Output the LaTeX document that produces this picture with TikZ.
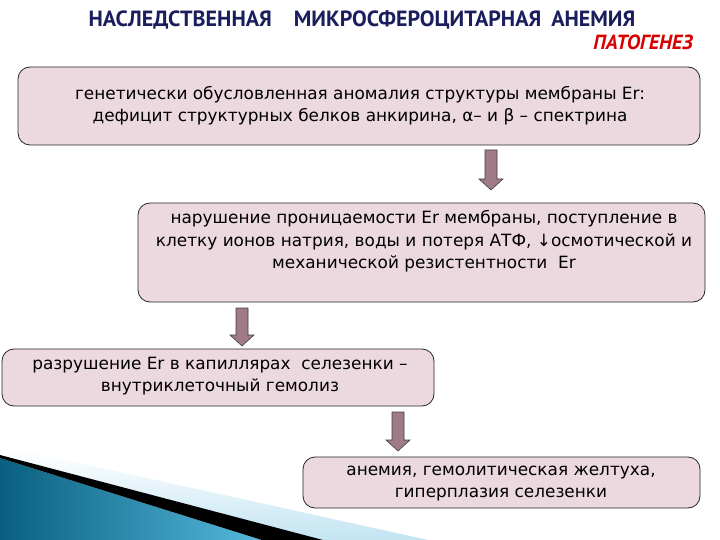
\documentclass[tikz,border=0pt]{standalone}
\usepackage{fontspec}
\setmainfont{DejaVu Sans}
\newfontfamily\titlefont{PT Sans}
\newfontfamily\boxfont{DejaVu Sans}
\definecolor{boxpink}{RGB}{236,217,223}
\definecolor{arrowmauve}{RGB}{160,122,135}
\definecolor{titlenavy}{RGB}{27,30,92}
\definecolor{tealdark}{RGB}{10,95,128}
\definecolor{teallight}{RGB}{85,185,220}
\definecolor{paleblue}{RGB}{195,228,242}
\tikzset{
  box/.style={draw=black!85, line width=0.8pt, fill=boxpink, rounded corners=12pt, inner sep=0pt},
  boxtext/.style={align=center, inner sep=0pt, font=\boxfont\fontsize{16.9}{22.5}\selectfont},
  arrowline/.style={draw=black!75, line width=0.6pt, fill=arrowmauve},
  pics/blockarrow/.style={code={
    \draw[arrowline] (-6,0) -- (6,0) -- (6,#1-11) -- (12,#1-11) -- (0,#1) -- (-12,#1-11) -- (-6,#1-11) -- cycle;}}
}
\begin{document}
\begin{tikzpicture}[x=1pt,y=-1pt]
\path[use as bounding box, fill=white] (0,0) rectangle (720,540);
% decoration bottom-left
\shade[top color=white, bottom color=paleblue] (20,450) -- (428,540) -- (320,540) -- (0,455) -- cycle;
\shade[left color=tealdark, right color=teallight] (0,458) -- (262,540) -- (0,540) -- cycle;
\fill[black] (0,455) -- (323,540) -- (262,540) -- (0,458) -- cycle;
% title
\node[font=\titlefont\bfseries\fontsize{22}{24}\selectfont, text=titlenavy, inner sep=0pt] (title) at (362,20)
  {НАСЛЕДСТВЕННАЯ\hspace{1.0em}МИКРОСФЕРОЦИТАРНАЯ\hspace{0.45em}АНЕМИЯ};
\node[font=\titlefont\bfseries\itshape\fontsize{20.5}{22}\selectfont, text=red!85!black, inner sep=0pt] (pat) at (643,42) {ПАТОГЕНЕЗ};
% boxes
\node[box, minimum width=682pt, minimum height=78pt] (b1) at (359,106) {};
\node[box, minimum width=567pt, minimum height=99pt] (b2) at (421.5,252.5) {};
\node[box, minimum width=432pt, minimum height=57pt] (b3) at (218,377.5) {};
\node[box, minimum width=397pt, minimum height=51pt] (b4) at (501.5,482.5) {};
% texts
\node[boxtext] (t1) at (360,105.5) {генетически обусловленная аномалия структуры мембраны Er:\\дефицит структурных белков анкирина, α– и β – спектрина};
\node[boxtext] (t2) at (424,241.5) {нарушение проницаемости Er мембраны, поступление в\\клетку ионов натрия, воды и потеря АТФ, ↓осмотической и\\механической резистентности\ \ Er};
\node[boxtext] (t3) at (220,376) {разрушение Er в капиллярах\ \ селезенки –\\внутриклеточный гемолиз};
\node[boxtext] (t4) at (501,483.5) {анемия, гемолитическая желтуха,\\гиперплазия селезенки};
% block arrows
\pic (a1) at (491,150) {blockarrow=40};
\pic (a2) at (242,308) {blockarrow=38};
\pic (a3) at (398,412) {blockarrow=39};
\end{tikzpicture}
\end{document}
